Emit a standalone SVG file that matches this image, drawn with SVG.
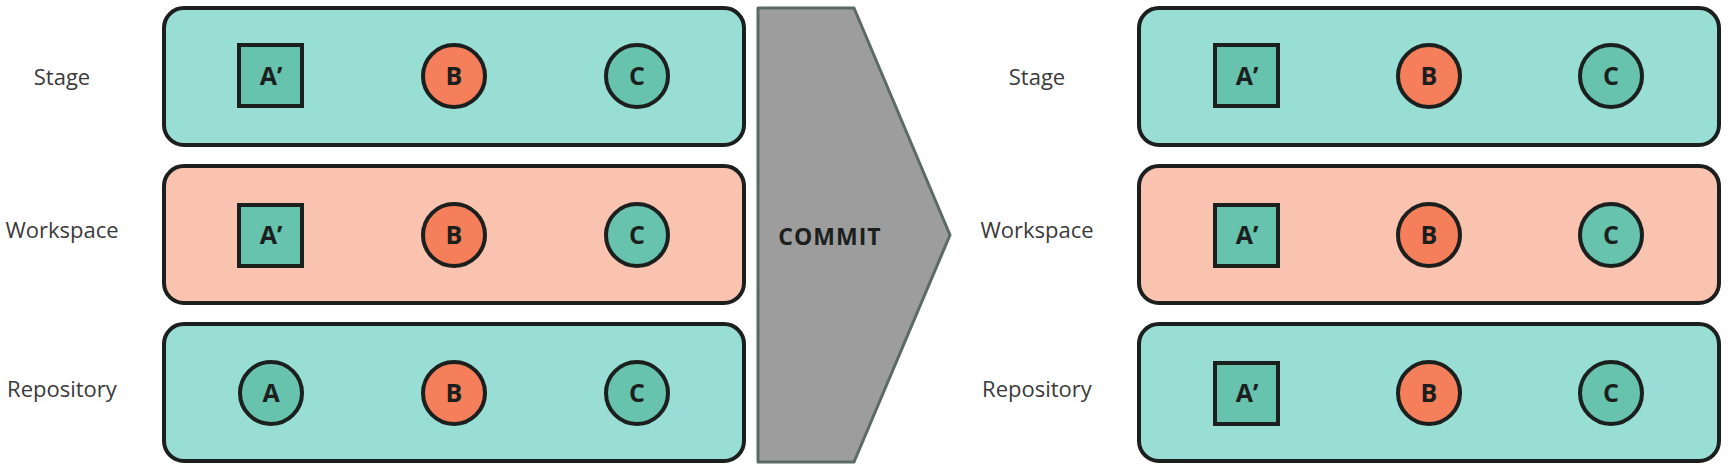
<svg xmlns="http://www.w3.org/2000/svg" width="1729" height="471" viewBox="0 0 1729 471">
<style>
.lbl{font-family:"Open Sans","Liberation Sans",sans-serif;font-size:22px;fill:#3a3a3a;text-anchor:middle}
.box{stroke:#1b1f1d;stroke-width:4}
.teal{fill:#98ded4}
.peach{fill:#f9c3b0}
.n{stroke:#1b1f1d;stroke-width:4}
.nt{fill:#67c2ae}
.no{fill:#f47f5a}
.t{font-family:"Open Sans","Liberation Sans",sans-serif;font-weight:bold;font-size:25px;fill:#1b1f1d;text-anchor:middle}
</style>
<rect width="1729" height="471" fill="#ffffff"/>
<g id="labels-left">
<text class="lbl" x="62" y="85">Stage</text>
<text class="lbl" x="62" y="238">Workspace</text>
<text class="lbl" x="62" y="397">Repository</text>
</g>
<g id="labels-right">
<text class="lbl" x="1037" y="85">Stage</text>
<text class="lbl" x="1037" y="238">Workspace</text>
<text class="lbl" x="1037" y="397">Repository</text>
</g>
<g id="left-stage">
<rect class="box teal" x="164" y="8" width="580" height="137" rx="20"/>
<rect class="n nt" x="239" y="45" width="63" height="61"/><text class="t" x="271" y="85">A’</text>
<circle class="n no" cx="454" cy="76" r="31"/><text class="t" x="454" y="85">B</text>
<circle class="n nt" cx="637" cy="76" r="31"/><text class="t" x="637" y="85">C</text>
</g>
<g id="left-workspace">
<rect class="box peach" x="164" y="166" width="580" height="137" rx="20"/>
<rect class="n nt" x="239" y="205" width="63" height="61"/><text class="t" x="271" y="244">A’</text>
<circle class="n no" cx="454" cy="235" r="31"/><text class="t" x="454" y="244">B</text>
<circle class="n nt" cx="637" cy="235" r="31"/><text class="t" x="637" y="244">C</text>
</g>
<g id="left-repository">
<rect class="box teal" x="164" y="324" width="580" height="137" rx="20"/>
<circle class="n nt" cx="271" cy="393" r="31"/><text class="t" x="271" y="402">A</text>
<circle class="n no" cx="454" cy="393" r="31"/><text class="t" x="454" y="402">B</text>
<circle class="n nt" cx="637" cy="393" r="31"/><text class="t" x="637" y="402">C</text>
</g>
<g id="commit">
<polygon points="758,8 854,8 950,235 854,462 758,462" fill="#9e9d9e" stroke="#5b6a65" stroke-width="3" stroke-linejoin="round"/>
<text x="830" y="245" font-family="'Open Sans','Liberation Sans',sans-serif" font-weight="bold" font-size="23" letter-spacing="1" fill="#1b1f1d" text-anchor="middle">COMMIT</text>
</g>
<g id="right-stage">
<rect class="box teal" x="1139" y="8" width="580" height="137" rx="20"/>
<rect class="n nt" x="1215" y="45" width="63" height="61"/><text class="t" x="1247" y="85">A’</text>
<circle class="n no" cx="1429" cy="76" r="31"/><text class="t" x="1429" y="85">B</text>
<circle class="n nt" cx="1611" cy="76" r="31"/><text class="t" x="1611" y="85">C</text>
</g>
<g id="right-workspace">
<rect class="box peach" x="1139" y="166" width="580" height="137" rx="20"/>
<rect class="n nt" x="1215" y="205" width="63" height="61"/><text class="t" x="1247" y="244">A’</text>
<circle class="n no" cx="1429" cy="235" r="31"/><text class="t" x="1429" y="244">B</text>
<circle class="n nt" cx="1611" cy="235" r="31"/><text class="t" x="1611" y="244">C</text>
</g>
<g id="right-repository">
<rect class="box teal" x="1139" y="324" width="580" height="137" rx="20"/>
<rect class="n nt" x="1215" y="363" width="63" height="61"/><text class="t" x="1247" y="402">A’</text>
<circle class="n no" cx="1429" cy="393" r="31"/><text class="t" x="1429" y="402">B</text>
<circle class="n nt" cx="1611" cy="393" r="31"/><text class="t" x="1611" y="402">C</text>
</g>
<g id="connectors"></g>
</svg>
